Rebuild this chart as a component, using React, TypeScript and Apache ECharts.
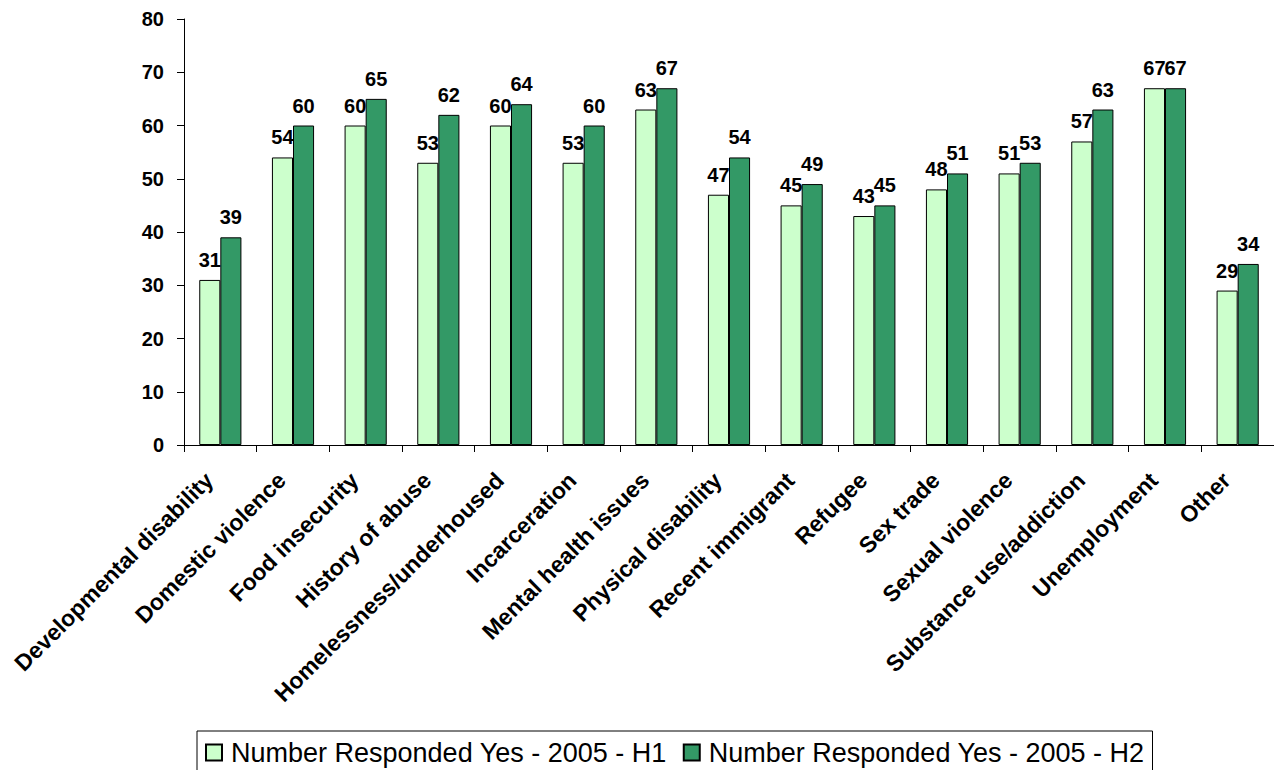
import React, { useEffect, useRef } from "react";
import * as echarts from "echarts";

const categories = [
  "Developmental disability",
  "Domestic violence",
  "Food insecurity",
  "History of abuse",
  "Homelessness/underhoused",
  "Incarceration",
  "Mental health issues",
  "Physical disability",
  "Recent immigrant",
  "Refugee",
  "Sex trade",
  "Sexual violence",
  "Substance use/addiction",
  "Unemployment",
  "Other",
];
const seriesH1Name = "Number Responded Yes - 2005 - H1";
const seriesH2Name = "Number Responded Yes - 2005 - H2";
const valuesH1 = [31, 54, 60, 53, 60, 53, 63, 47, 45, 43, 48, 51, 57, 67, 29];
const valuesH2 = [39, 60, 65, 62, 64, 60, 67, 54, 49, 45, 51, 53, 63, 67, 34];

const FONT = "'Liberation Sans', Arial, Helvetica, sans-serif";

export default function App() {
  const ref = useRef<HTMLDivElement>(null);
  useEffect(() => {
    if (!ref.current) return;
    const chart = echarts.init(ref.current, undefined, { renderer: "svg" });
    const labelCfg = {
      show: true,
      position: "top" as const,
      distance: 10,
      fontFamily: FONT,
      fontSize: 20,
      fontWeight: "bold" as const,
      color: "#000",
    };
    chart.setOption({
      animation: false,
      backgroundColor: "#fff",
      textStyle: { fontFamily: FONT },
      grid: { left: 184, top: 19, right: 0, bottom: 325, containLabel: false },
      legend: {
        left: 197,
        top: 731,
        orient: "horizontal",
        backgroundColor: "#fff",
        borderColor: "#000",
        borderWidth: 1,
        borderRadius: 0,
        padding: [8, 8, 12, 8],
        itemGap: 16,
        itemWidth: 16,
        itemHeight: 16,
        icon: "rect",
        textStyle: { fontFamily: FONT, fontSize: 27, color: "#000", padding: [0, 0, 0, 4] },
        data: [seriesH1Name, seriesH2Name],
      },
      xAxis: {
        type: "category",
        data: categories,
        axisLine: { lineStyle: { color: "#000", width: 1 } },
        axisTick: { show: true, length: 7, lineStyle: { color: "#000" } },
        axisLabel: {
          interval: 0,
          rotate: 45,
          margin: 20,
          padding: [0, 16, 0, 0],
          fontFamily: FONT,
          fontSize: 23,
          fontWeight: "bold",
          color: "#000",
        },
      },
      yAxis: {
        type: "value",
        min: 0,
        max: 80,
        interval: 10,
        splitLine: { show: false },
        axisLine: { show: true, lineStyle: { color: "#000", width: 1 } },
        axisTick: { show: true, length: 7, lineStyle: { color: "#000" } },
        axisLabel: {
          margin: 20,
          fontFamily: FONT,
          fontSize: 20,
          fontWeight: "bold",
          color: "#000",
        },
      },
      series: [
        {
          name: seriesH1Name,
          type: "bar",
          data: valuesH1,
          barGap: "0%",
          barCategoryGap: "42%",
          itemStyle: { color: "#CCFFCC", borderColor: "#000", borderWidth: 1 },
          label: labelCfg,
        },
        {
          name: seriesH2Name,
          type: "bar",
          data: valuesH2,
          barGap: "0%",
          barCategoryGap: "42%",
          itemStyle: { color: "#339966", borderColor: "#000", borderWidth: 1 },
          label: labelCfg,
        },
      ],
    });
    return () => chart.dispose();
  }, []);
  return (
    <div
      ref={ref}
      style={{ position: "fixed", left: 0, top: 0, width: 1274, height: 770 }}
    />
  );
}
